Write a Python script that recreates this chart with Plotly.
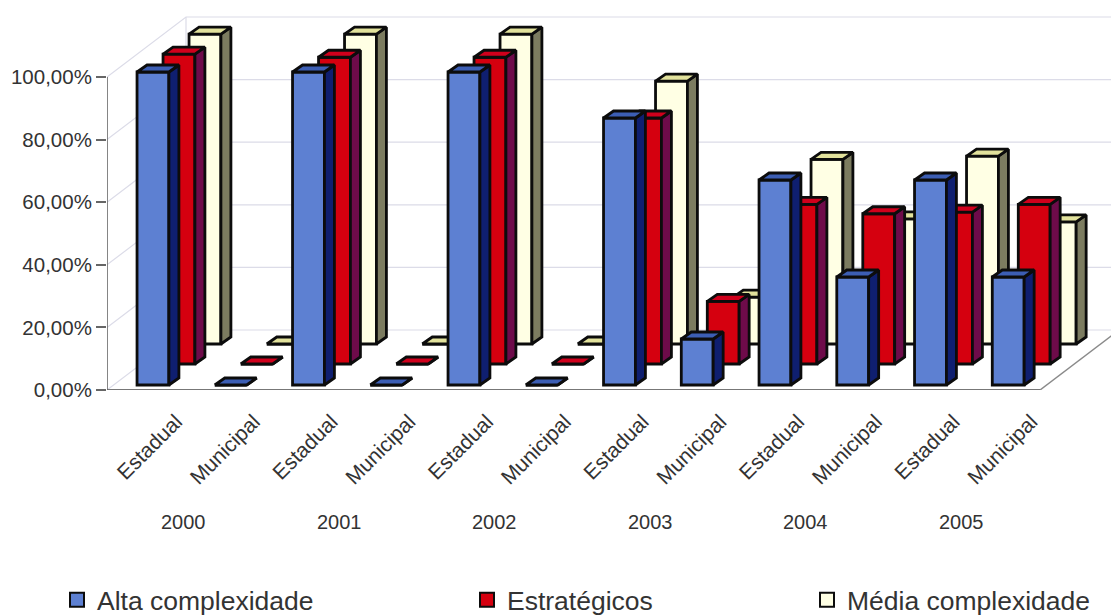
import plotly.graph_objects as go

# ---- data ----
years = ["2000", "2001", "2002", "2003", "2004", "2005"]
categories = ["Estadual", "Municipal"] * 6
alta = [100, 0, 100, 0, 100, 0, 85.3, 14.7, 65.5, 34.5, 65.5, 34.5]
estrategicos = [99, 0, 98, 0, 98, 0, 78.6, 20, 51, 48, 48.5, 51]
media = [99, 0, 99, 0, 99, 0, 84, 15, 59, 40, 60, 39]
y_ticks = [0, 20, 40, 60, 80, 100]
y_labels = ["0,00%", "20,00%", "40,00%", "60,00%", "80,00%", "100,00%"]

# ---- chart geometry ----
W, H = 1111, 615
L, BOT = 107, 390            # pixel of the front-left corner
PX_X = 77.75                 # pixels per category
PX_Y = 3.13                  # pixels per percent
X0 = -0.5
X1 = X0 + (W - L) / PX_X
Y1 = BOT / PX_Y
BAR_W = 0.41
DEPTH_X, DEPTH_Y = 10 / PX_X, 7 / PX_Y
WALL_X, WALL_Y = 79 / PX_X, 60 / PX_Y
FONT = "Liberation Sans, Arial, sans-serif"
TXT = "#333333"
INK = "#0c0c0c"
OUTLINE = 2.8

series = [  # back to front
    dict(name="Média complexidade", vals=media, front="#ffffe4", side="#7c7c60", top="#e2e29c",
         sx=59.1, sy=46, lx=807, legend="legend3"),
    dict(name="Estratégicos", vals=estrategicos, front="#d5000f", side="#6e0b4a", top="#d0001c",
         sx=33.1, sy=26, lx=467, legend="legend2"),
    dict(name="Alta complexidade", vals=alta, front="#5d80d2", side="#0f1f70", top="#3c5eb4",
         sx=7.1, sy=5, lx=57, legend="legend"),
]

fig = go.Figure()
xs = list(range(len(categories)))


def wall_line(x, y, color, width):
    fig.add_trace(go.Scatter(x=x, y=y, mode="lines", line=dict(color=color, width=width),
                             hoverinfo="skip", showlegend=False, xaxis="x", yaxis="y"))


grid = "#dcdce8"
gx, gy = [], []
for t in y_ticks:
    gx += [X0, X0 + WALL_X, X1 + 1, None]
    gy += [t, t + WALL_Y, t + WALL_Y, None]
wall_line(gx, gy, grid, 1.2)
wall_line([X0 + WALL_X, X0 + WALL_X], [WALL_Y, 100 + WALL_Y], grid, 1.2)
wall_line([X0 + 12, X0 + 12 + WALL_X], [0, WALL_Y], "#8a8a8a", 1.5)
wall_line([X0, X0 + 12], [0, 0], "#777777", 2)
wall_line([X0, X0], [0, 100], "#666666", 1.6)

for k, s in enumerate(series, start=2):
    xa, ya = f"x{k}", f"y{k}"
    fig.add_trace(go.Bar(x=xs, y=s["vals"], width=BAR_W, name=s["name"], showlegend=False,
                         marker=dict(color=s["front"], line=dict(color=INK, width=OUTLINE)),
                         hoverinfo="skip", xaxis=xa, yaxis=ya))
    sx, sy, tx, ty = [], [], [], []
    for i, v in zip(xs, s["vals"]):
        a, b = i - BAR_W / 2, i + BAR_W / 2
        sx += [b, b + DEPTH_X, b + DEPTH_X, b, b, None]
        sy += [0, DEPTH_Y, v + DEPTH_Y, v, 0, None]
        tx += [a, a + DEPTH_X, b + DEPTH_X, b, a, None]
        ty += [v, v + DEPTH_Y, v + DEPTH_Y, v, v, None]
    for px, py, col in ((sx, sy, s["side"]), (tx, ty, s["top"])):
        fig.add_trace(go.Scatter(x=px, y=py, mode="lines", fill="toself", fillcolor=col,
                                 line=dict(color=INK, width=OUTLINE), hoverinfo="skip",
                                 showlegend=False, xaxis=xa, yaxis=ya))
    fig.add_trace(go.Scatter(x=[None], y=[None], mode="markers", name=s["name"], legend=s["legend"],
                             marker=dict(symbol="square", size=14, color=s["front"],
                                         line=dict(color=INK, width=2)),
                             xaxis=xa, yaxis=ya))

layout = dict(
    width=W, height=H, autosize=False,
    paper_bgcolor="white", plot_bgcolor="white",
    margin=dict(l=L, r=0, t=0, b=H - BOT, autoexpand=False),
    barmode="overlay",
    font=dict(family=FONT, color=TXT, size=20),
    xaxis=dict(range=[X0, X1], showgrid=False, zeroline=False, showline=False,
               tickmode="array", tickvals=[i + 0.39 for i in xs], ticktext=categories,
               tickangle=-45, ticks="outside", ticklen=10, tickcolor="rgba(0,0,0,0)",
               tickfont=dict(size=21, color=TXT, family=FONT)),
    yaxis=dict(range=[0, Y1], showgrid=False, zeroline=False, showline=False,
               tickmode="array", tickvals=y_ticks, ticktext=y_labels,
               ticks="outside", ticklen=10, tickcolor="#666666", tickwidth=1.5,
               tickfont=dict(size=20.5, color=TXT, family=FONT)),
    annotations=[dict(text=y, xref="x", yref="paper", x=2 * i + 0.49, y=-0.371, showarrow=False,
                      font=dict(size=20, color=TXT, family=FONT))
                 for i, y in enumerate(years)],
)
for k, s in enumerate(series, start=2):
    layout[f"xaxis{k}"] = dict(overlaying="x", visible=False, fixedrange=True,
                               range=[X0 - s["sx"] / PX_X, X1 - s["sx"] / PX_X])
    layout[f"yaxis{k}"] = dict(overlaying="y", visible=False, fixedrange=True,
                               range=[-s["sy"] / PX_Y, Y1 - s["sy"] / PX_Y])
    layout[s["legend"]] = dict(xref="container", yref="container", x=s["lx"] / W,
                               y=1 - 576 / H, xanchor="left", yanchor="top",
                               font=dict(size=26.5, color=TXT, family=FONT),
                               bgcolor="rgba(0,0,0,0)", itemsizing="trace")
fig.update_layout(**layout)
fig.write_html("out.html", post_script="document.body.style.margin='0';",
               config={"displayModeBar": False})
